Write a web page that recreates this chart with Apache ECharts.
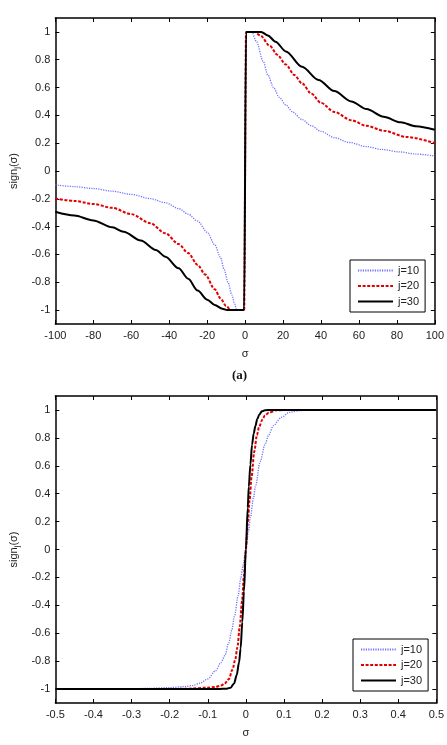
<!DOCTYPE html>
<html>
<head>
<meta charset="utf-8">
<script src="https://cdn.jsdelivr.net/npm/echarts@6/dist/echarts.min.js"></script>
<style>
html,body{margin:0;padding:0;background:#fff;}
#c{width:447px;height:745px;}
</style>
</head>
<body>
<div id="c"></div>
<script>
// ---- data ----
const seriesNames = ['j=10', 'j=20', 'j=30'];

// Panel (a): sigma in [-100, 100]
const topJ10 = [[-100,-0.10],[-90,-0.112],[-80,-0.126],[-70,-0.145],[-60,-0.168],[-50,-0.198],[-42,-0.228],[-35,-0.27],[-30,-0.31],[-25,-0.36],[-20,-0.44],[-16,-0.53],[-13,-0.62],[-11,-0.71],[-9,-0.8],[-7,-0.89],[-5.5,-0.955],[-4.5,-1],[-0.5,-1],[0.5,1],[3.5,1],[6,0.93],[9.5,0.79],[12,0.69],[15,0.6],[18,0.53],[21.5,0.475],[25,0.425],[30,0.37],[35,0.325],[40,0.285],[47,0.24],[55,0.205],[64,0.175],[72,0.155],[81.5,0.137],[90,0.122],[100,0.107]];
const topJ20 = [[-100,-0.197],[-90,-0.215],[-80,-0.237],[-70,-0.265],[-60,-0.31],[-50,-0.375],[-42,-0.448],[-35,-0.525],[-30,-0.59],[-25,-0.675],[-21,-0.745],[-16,-0.85],[-13,-0.915],[-10,-0.97],[-7.5,-1],[-0.5,-1],[0.5,1],[5,1],[8,0.975],[13,0.9],[17,0.835],[21.5,0.765],[26,0.69],[30,0.63],[35,0.555],[40,0.49],[47,0.425],[56,0.365],[64,0.325],[73,0.29],[85,0.245],[100,0.2]];
const topJ30 = [[-100,-0.293],[-90,-0.32],[-80,-0.355],[-70,-0.405],[-64,-0.437],[-55,-0.5],[-47,-0.568],[-42,-0.616],[-35,-0.7],[-30,-0.775],[-25,-0.86],[-20,-0.925],[-16,-0.963],[-12,-0.99],[-9.5,-1],[-0.5,-1],[0.5,1],[8.5,1],[12,0.975],[16,0.93],[21.5,0.86],[30,0.75],[38.7,0.655],[47,0.575],[56,0.5],[64,0.445],[73,0.39],[82,0.35],[90,0.322],[100,0.296]];

// Panel (b): sigma in [-0.5, 0.5]
const botJ10 = [[-0.5,-1],[-0.3,-0.998],[-0.25,-0.995],[-0.2,-0.99],[-0.16,-0.982],[-0.14,-0.975],[-0.12,-0.958],[-0.1,-0.928],[-0.08,-0.87],[-0.065,-0.81],[-0.055,-0.76],[-0.045,-0.67],[-0.037,-0.58],[-0.03,-0.48],[-0.02,-0.33],[-0.0137,-0.21],[-0.007,-0.11],[0,0],[0.007,0.13],[0.012,0.23],[0.02,0.37],[0.025,0.45],[0.0376,0.63],[0.05,0.75],[0.06,0.82],[0.072,0.887],[0.093,0.947],[0.115,0.983],[0.14,0.995],[0.16,0.998],[0.2,1],[0.5,1]];
const botJ20 = [[-0.5,-1],[-0.2,-1],[-0.15,-0.997],[-0.1,-0.99],[-0.08,-0.985],[-0.065,-0.975],[-0.056,-0.962],[-0.045,-0.93],[-0.035,-0.86],[-0.028,-0.79],[-0.022,-0.7],[-0.016,-0.55],[-0.01,-0.37],[-0.005,-0.19],[0,0],[0.005,0.19],[0.01,0.36],[0.015,0.52],[0.022,0.7],[0.029,0.82],[0.035,0.88],[0.043,0.93],[0.05,0.96],[0.06,0.98],[0.08,0.997],[0.1,1],[0.5,1]];
const botJ30 = [[-0.5,-1],[-0.1,-1],[-0.07,-0.999],[-0.05,-0.997],[-0.04,-0.99],[-0.031,-0.96],[-0.024,-0.9],[-0.018,-0.81],[-0.0137,-0.71],[-0.0094,-0.52],[-0.005,-0.3],[0,0],[0.005,0.3],[0.0077,0.45],[0.012,0.61],[0.0162,0.75],[0.0205,0.83],[0.025,0.885],[0.03,0.935],[0.035,0.965],[0.042,0.99],[0.05,0.998],[0.07,1],[0.5,1]];

// tick labels
const yTicks = [-1,-0.8,-0.6,-0.4,-0.2,0,0.2,0.4,0.6,0.8,1];
const xTicksTop = [-100,-80,-60,-40,-20,0,20,40,60,80,100];
const xTicksBot = [-0.5,-0.4,-0.3,-0.2,-0.1,0,0.1,0.2,0.3,0.4,0.5];
const panelLabel = '(a)';

// ---- chart ----
const FONT = 'Liberation Sans, Arial, sans-serif';
const LBL = {color:'#222', fontSize:11, fontFamily:FONT};
const styles = [
  {color:'#7070ff', type:[1.2,1.2], width:1.3},
  {color:'#e00000', type:[3,1.6], width:2},
  {color:'#000000', type:'solid', width:2}
];
const axLine = {show:true, onZero:false, lineStyle:{color:'#000', width:1.5}};

function xAx(grid, ticks, min, max, pos, labels){
  return {
    type:'value', gridIndex:grid, min:min, max:max, position:pos,
    axisLine:axLine,
    axisTick:{show:true, inside:true, length:4, lineStyle:{color:'#000', width:1}, customValues:ticks},
    axisLabel:{show:labels, margin:6, ...LBL, customValues:ticks, formatter:v=>String(+v.toFixed(4))},
    splitLine:{show:false},
    name: labels ? 'σ' : '', nameLocation:'middle', nameGap:24,
    nameTextStyle:{color:'#222', fontSize:11, fontFamily:FONT}
  };
}
function yAx(grid, pos, labels){
  return {
    type:'value', gridIndex:grid, min:-1.1, max:1.1, position:pos,
    axisLine:axLine,
    axisTick:{show:true, inside:true, length:4, lineStyle:{color:'#000', width:1}, customValues:yTicks},
    axisLabel:{show:labels, margin:5, ...LBL, customValues:yTicks, formatter:v=>String(+v.toFixed(4))},
    splitLine:{show:false},
    name: labels ? '{a|sign}{s|j}{a|(σ)}' : '', nameLocation:'middle', nameGap:31, nameRotate:90,
    nameTextStyle:{color:'#222', fontFamily:FONT, rich:{a:{fontSize:11, color:'#222', fontFamily:FONT}, s:{fontSize:8, color:'#222', fontFamily:FONT, verticalAlign:'bottom', padding:[6,0,0,0]}}}
  };
}

const dataSets = [[topJ10, topJ20, topJ30],[botJ10, botJ20, botJ30]];
const series = [];
for (let g=0; g<2; g++){
  for (let k=0; k<3; k++){
    series.push({
      type:'line', name:seriesNames[k], xAxisIndex:g*2, yAxisIndex:g*2,
      data:dataSets[g][k], showSymbol:false, symbol:'none',
      smooth:0.3, smoothMonotone:'x',
      lineStyle:{color:styles[k].color, type:styles[k].type, width:styles[k].width},
      itemStyle:{color:styles[k].color},
      silent:true, animation:false, z:2+k
    });
  }
}

const legendCommon = {
  orient:'vertical', data:seriesNames, itemWidth:35, itemHeight:12, itemGap:4.5,
  borderColor:'#000', borderWidth:1, backgroundColor:'#fff',
  padding:[5,6,5,7], textStyle:{color:'#222', fontSize:11, fontFamily:FONT},
  selectedMode:false,
  itemStyle:{opacity:0, borderWidth:0},
  lineStyle:{opacity:1}
};

const option = {
  animation:false,
  backgroundColor:'#fff',
  grid:[
    {left:47, right:11, top:18, bottom:421},
    {left:49, right:8, top:396, bottom:42}
  ],
  xAxis:[
    xAx(0, xTicksTop, -100, 100, 'bottom', true),
    xAx(0, xTicksTop, -100, 100, 'top', false),
    xAx(1, xTicksBot, -0.5, 0.5, 'bottom', true),
    xAx(1, xTicksBot, -0.5, 0.5, 'top', false)
  ],
  yAxis:[
    yAx(0, 'left', true), yAx(0, 'right', false),
    yAx(1, 'left', true), yAx(1, 'right', false)
  ],
  legend:[
    Object.assign({left:350, top:260}, legendCommon),
    Object.assign({left:353, top:639}, legendCommon)
  ],
  graphic:[{type:'text', left:232, top:369, style:{text:panelLabel, font:'bold 13px "Liberation Serif", serif', fill:'#111'}}],
  series:series
};

const chart = echarts.init(document.getElementById('c'), null, {renderer:'canvas'});
chart.setOption(option);
</script>
</body>
</html>
